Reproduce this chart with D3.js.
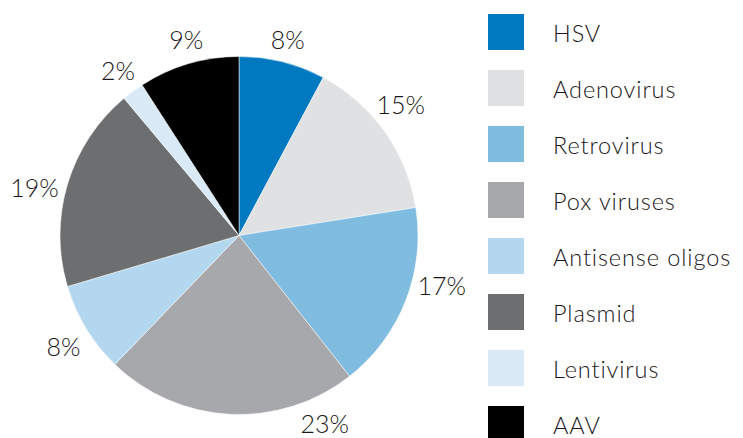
<!DOCTYPE html>
<html>
<head>
<meta charset="utf-8">
<script src="https://cdn.jsdelivr.net/npm/d3@7"></script>
<style>
  html, body { margin: 0; padding: 0; background: #fff; }
  text { font-family: Lato, "Open Sans", sans-serif; font-weight: 300; fill: #1a1718; }
</style>
</head>
<body>
<div id="chart"></div>
<script>
// Chart data
const categories = ["HSV", "Adenovirus", "Retrovirus", "Pox viruses", "Antisense oligos", "Plasmid", "Lentivirus", "AAV"];
const shares = [7.8, 14.7, 16.9, 22.8, 8.2, 18.5, 2.0, 9.1];
const labels = ["8%", "15%", "17%", "23%", "8%", "19%", "2%", "9%"];

// Styling / layout
const colors = ["#0079c1", "#e0e1e3", "#80bbe0", "#a7a8ab", "#b3d7ee", "#6d6e70", "#d9eaf6", "#000000"];
// label placement around the pie: [angle in degrees from top, distance from centre]
const labelPlacement = [[14, 202], [51, 208], [104, 209], [155.5, 207], [237.5, 208], [283, 210], [323.6, 204], [344.9, 203]];

const width = 743, height = 438;
const cx = 239, cy = 235.5, radius = 179;

const svg = d3.select("#chart")
  .append("svg")
  .attr("width", width)
  .attr("height", height);

const pie = d3.pie().sort(null).value(d => d.value);
const arc = d3.arc().innerRadius(0).outerRadius(radius);

const data = categories.map((c, i) => ({ name: c, value: shares[i], label: labels[i] }));

const g = svg.append("g").attr("transform", `translate(${cx},${cy})`);

g.selectAll("path")
  .data(pie(data))
  .enter()
  .append("path")
  .attr("d", arc)
  .attr("fill", (d, i) => colors[i])
  .attr("stroke", "#fff")
  .attr("stroke-width", 0.5);

// Percent labels
g.selectAll(".pct")
  .data(data)
  .enter()
  .append("text")
  .attr("class", "pct")
  .attr("x", (d, i) => labelPlacement[i][1] * Math.sin(labelPlacement[i][0] * Math.PI / 180))
  .attr("y", (d, i) => -labelPlacement[i][1] * Math.cos(labelPlacement[i][0] * Math.PI / 180))
  .attr("text-anchor", "middle")
  .attr("dy", "0.36em")
  .style("font-size", "25px")
  .text(d => d.label);

// Legend
const legend = svg.append("g").attr("transform", "translate(488,14)");

const item = legend.selectAll(".item")
  .data(categories)
  .enter()
  .append("g")
  .attr("class", "item")
  .attr("transform", (d, i) => `translate(0,${i * 56})`);

item.append("rect")
  .attr("width", 36)
  .attr("height", 36)
  .attr("fill", (d, i) => colors[i]);

item.append("text")
  .attr("x", 65)
  .attr("y", 28)
  .style("font-size", "23.5px")
  .style("letter-spacing", "0.9px")
  .text(d => d);
</script>
</body>
</html>
